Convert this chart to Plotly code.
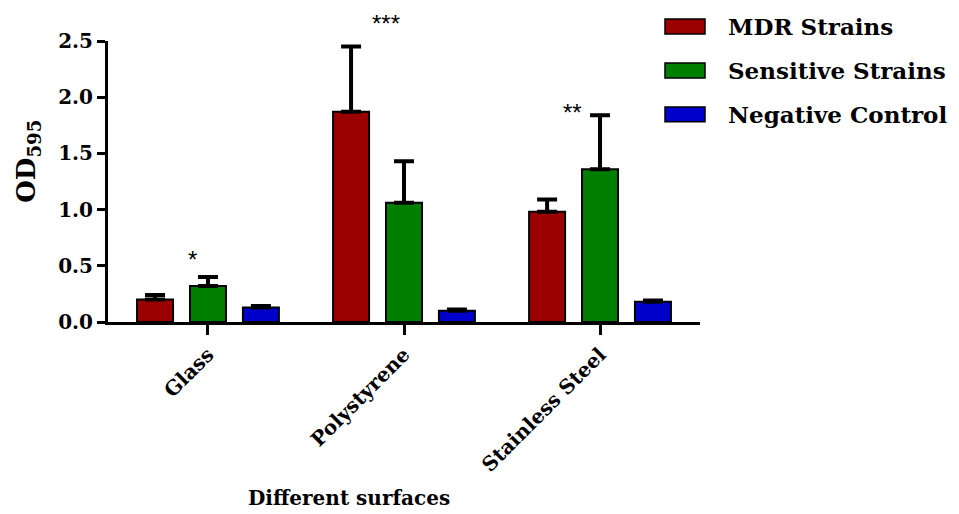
import plotly.graph_objects as go

categories = ["Glass", "Polystyrene", "Stainless Steel"]
series_names = ["MDR Strains", "Sensitive Strains", "Negative Control"]
mdr_values = [0.20, 1.87, 0.98]
mdr_errors = [0.04, 0.58, 0.11]
sensitive_values = [0.32, 1.06, 1.36]
sensitive_errors = [0.08, 0.37, 0.48]
negative_values = [0.13, 0.10, 0.18]
negative_errors = [0.012, 0.012, 0.012]
y_ticks = [0.0, 0.5, 1.0, 1.5, 2.0, 2.5]
y_max = 2.5
sig_labels = ["*", "***", "**"]
sig_x = [-0.08, 0.91, 1.86]
sig_y = [0.555, 2.66, 1.86]

colors = ["#9b0000", "#007f00", "#0000cc"]
values = [mdr_values, sensitive_values, negative_values]
errors = [mdr_errors, sensitive_errors, negative_errors]

SERIF = "DejaVu Serif"
# page body has an 8px default margin; size the figure to fill the rest of the window
OFF = 8
FIG_W, FIG_H = 959 - OFF, 514 - OFF

fig = go.Figure()
for name, vals, errs, col in zip(series_names, values, errors, colors):
    fig.add_trace(go.Bar(
        x=categories, y=vals, name=name, showlegend=False,
        marker=dict(color=col, line=dict(color="black", width=2)),
        error_y=dict(type="data", array=errs, arrayminus=[0] * len(errs),
                     symmetric=False, color="black", thickness=4, width=10),
    ))

annotations = []
for lab, x, y in zip(sig_labels, sig_x, sig_y):
    annotations.append(dict(x=x, y=y / y_max, xref="x", yref="y domain", text=lab, showarrow=False,
                            font=dict(family="Liberation Sans", size=24, color="black"),
                            xanchor="center", yanchor="middle"))

# layout geometry in window pixels
plot_top, plot_bottom, plot_left, plot_right = 41, 322.5, 108, 700
plot_width = plot_right - plot_left
ph = plot_bottom - plot_top
def px_to_paper_y(py):
    return (plot_bottom - py) / ph
def px_to_paper_x(px):
    return (px - plot_left) / plot_width

leg_centers = [26.5, 70.5, 114.5]
shapes = []
for name, col, cy in zip(series_names, colors, leg_centers):
    shapes.append(dict(type="rect", xref="paper", yref="paper",
                       x0=px_to_paper_x(665), x1=px_to_paper_x(705),
                       y0=px_to_paper_y(cy - 7.5), y1=px_to_paper_y(cy + 7.5),
                       fillcolor=col, line=dict(color="black", width=1.5)))
    annotations.append(dict(x=px_to_paper_x(726), y=px_to_paper_y(cy), xref="paper", yref="paper",
                            text=name, showarrow=False, xanchor="left", yanchor="middle",
                            font=dict(family=SERIF, size=23, color="black", weight="bold")))

annotations.append(dict(x=px_to_paper_x(349), y=px_to_paper_y(499), xref="paper", yref="paper",
                        text="Different surfaces", showarrow=False, xanchor="center", yanchor="middle",
                        font=dict(family=SERIF, size=20, color="black", weight="bold")))
annotations.append(dict(x=px_to_paper_x(28), y=px_to_paper_y(162), xref="paper", yref="paper",
                        text="OD<sub>595</sub>", showarrow=False, textangle=-90,
                        xanchor="center", yanchor="middle",
                        font=dict(family=SERIF, size=26, color="black", weight="bold")))

fig.update_layout(
    width=FIG_W, height=FIG_H,
    margin=dict(l=plot_left - OFF, r=FIG_W - (plot_right - OFF), t=plot_top - OFF,
                b=FIG_H - (plot_bottom - OFF), autoexpand=False),
    paper_bgcolor="white", plot_bgcolor="white",
    barmode="group", bargap=0.19, bargroupgap=0.32,
    annotations=annotations, shapes=shapes,
    xaxis=dict(type="category", range=[-0.51, 2.51], showline=True, linecolor="black", linewidth=3,
               ticks="outside", ticklen=10, tickwidth=3, tickcolor="black", tickangle=-45,
               tickfont=dict(family=SERIF, size=20, color="black", weight="bold"),
               showgrid=False, zeroline=False, automargin=False),
    yaxis=dict(range=[0, y_max], tickvals=y_ticks, ticktext=[f"{v:.1f}" for v in y_ticks],
               showline=True, linecolor="black", linewidth=3,
               ticks="outside", ticklen=8, tickwidth=3, tickcolor="black",
               tickfont=dict(family=SERIF, size=20, color="black", weight="bold"),
               showgrid=False, zeroline=False, automargin=False),
)
fig.write_html("out.html")
